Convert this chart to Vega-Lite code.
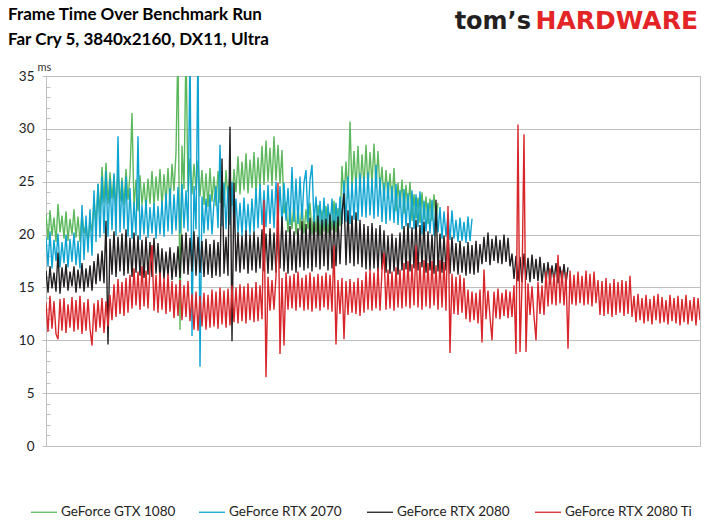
{
  "$schema": "https://vega.github.io/schema/vega-lite/v6.json",
  "width": 654,
  "height": 370,
  "autosize": {"type": "none"},
  "padding": {"left": 46, "top": 76, "right": 9, "bottom": 85},
  "background": "white",
  "title": {
    "text": "Frame Time Over Benchmark Run",
    "subtitle": "Far Cry 5, 3840x2160, DX11, Ultra",
    "anchor": "start",
    "frame": "group",
    "dx": -38,
    "dy": 50,
    "font": "Lato",
    "fontSize": 17,
    "fontWeight": "bold",
    "color": "#000000",
    "subtitleFont": "Lato",
    "subtitleFontSize": 17,
    "subtitleFontWeight": "bold",
    "subtitleColor": "#000000",
    "subtitlePadding": 8,
    "offset": 10
  },
  "config": {
    "view": {"stroke": "#bfbfbf", "strokeWidth": 1}
  },
  "resolve": {"axis": {"y": "independent"}},
  "datasets": {
    "gtx1080": [
      {"t":0,"ms":22.0},{"t":2,"ms":19.5},{"t":4,"ms":22.3},{"t":6,"ms":19.9},{"t":8,"ms":21.6},{"t":10,"ms":19.3},{"t":12,"ms":22.9},{"t":14,"ms":20.2},{"t":16,"ms":21.8},{"t":18,"ms":19.6},
      {"t":20,"ms":22.2},{"t":22,"ms":19.4},{"t":24,"ms":21.5},{"t":26,"ms":20.0},{"t":28,"ms":22.4},{"t":30,"ms":19.7},{"t":32,"ms":21.7},{"t":34,"ms":19.3},{"t":36,"ms":22.1},{"t":38,"ms":20.1},
      {"t":40,"ms":21.0},{"t":42,"ms":19.2},{"t":44,"ms":21.3},{"t":46,"ms":20.3},{"t":48,"ms":23.4},{"t":50,"ms":21.0},{"t":52,"ms":24.8},{"t":54,"ms":22.0},{"t":56,"ms":26.4},{"t":58,"ms":23.0},
      {"t":60,"ms":26.8},{"t":62,"ms":22.9},{"t":64,"ms":25.9},{"t":66,"ms":23.4},{"t":68,"ms":25.6},{"t":70,"ms":22.6},{"t":72,"ms":26.1},{"t":74,"ms":23.1},{"t":76,"ms":25.4},{"t":78,"ms":22.8},
      {"t":80,"ms":26.2},{"t":82,"ms":23.3},{"t":84,"ms":25.7},{"t":86,"ms":31.5},{"t":88,"ms":22.5},{"t":90,"ms":25.2},{"t":92,"ms":22.2},{"t":94,"ms":25.6},{"t":96,"ms":22.8},{"t":98,"ms":24.9},
      {"t":100,"ms":22.4},{"t":102,"ms":25.3},{"t":104,"ms":22.9},{"t":106,"ms":26.0},{"t":108,"ms":22.7},{"t":110,"ms":25.5},{"t":112,"ms":23.2},{"t":114,"ms":26.2},{"t":116,"ms":22.6},{"t":118,"ms":25.7},
      {"t":120,"ms":23.0},{"t":122,"ms":26.3},{"t":124,"ms":22.8},{"t":126,"ms":26.7},{"t":128,"ms":24.1},{"t":130,"ms":27.8},{"t":132,"ms":38},{"t":134,"ms":11.0},{"t":136,"ms":28.4},{"t":138,"ms":24.3},
      {"t":140,"ms":38},{"t":142,"ms":24.0},{"t":144,"ms":27.2},{"t":146,"ms":23.8},{"t":148,"ms":26.7},{"t":150,"ms":24.2},{"t":152,"ms":27.0},{"t":154,"ms":23.6},{"t":156,"ms":26.1},{"t":158,"ms":22.8},
      {"t":160,"ms":25.8},{"t":162,"ms":22.6},{"t":164,"ms":26.3},{"t":166,"ms":23.1},{"t":168,"ms":25.5},{"t":170,"ms":22.7},{"t":172,"ms":26.0},{"t":174,"ms":23.0},{"t":176,"ms":25.6},{"t":178,"ms":22.6},
      {"t":180,"ms":26.1},{"t":182,"ms":23.2},{"t":184,"ms":25.7},{"t":186,"ms":22.7},{"t":188,"ms":26.2},{"t":190,"ms":24.0},{"t":192,"ms":27.4},{"t":194,"ms":23.8},{"t":196,"ms":26.9},{"t":198,"ms":24.2},
      {"t":200,"ms":27.7},{"t":202,"ms":23.9},{"t":204,"ms":27.1},{"t":206,"ms":24.4},{"t":208,"ms":27.8},{"t":210,"ms":24.0},{"t":212,"ms":27.3},{"t":214,"ms":24.5},{"t":216,"ms":28.4},{"t":218,"ms":24.7},
      {"t":220,"ms":28.9},{"t":222,"ms":25.0},{"t":224,"ms":28.2},{"t":226,"ms":24.6},{"t":228,"ms":29.3},{"t":230,"ms":25.1},{"t":232,"ms":28.5},{"t":234,"ms":24.8},{"t":236,"ms":28.0},{"t":238,"ms":22.0},
      {"t":240,"ms":23.1},{"t":242,"ms":20.2},{"t":244,"ms":22.6},{"t":246,"ms":20.5},{"t":248,"ms":23.2},{"t":250,"ms":20.0},{"t":252,"ms":22.5},{"t":254,"ms":20.4},{"t":256,"ms":22.9},{"t":258,"ms":20.1},
      {"t":260,"ms":22.4},{"t":262,"ms":20.5},{"t":264,"ms":23.0},{"t":266,"ms":20.0},{"t":268,"ms":22.2},{"t":270,"ms":20.2},{"t":272,"ms":22.8},{"t":274,"ms":19.9},{"t":276,"ms":22.3},{"t":278,"ms":20.3},
      {"t":280,"ms":22.7},{"t":282,"ms":20.1},{"t":284,"ms":22.1},{"t":286,"ms":20.4},{"t":288,"ms":23.2},{"t":290,"ms":20.2},{"t":292,"ms":22.5},{"t":294,"ms":20.8},{"t":296,"ms":26.5},{"t":298,"ms":23.2},
      {"t":300,"ms":26.9},{"t":302,"ms":23.4},{"t":304,"ms":30.7},{"t":306,"ms":24.2},{"t":308,"ms":27.9},{"t":310,"ms":24.4},{"t":312,"ms":28.4},{"t":314,"ms":24.0},{"t":316,"ms":27.6},{"t":318,"ms":24.6},
      {"t":320,"ms":28.5},{"t":322,"ms":24.3},{"t":324,"ms":27.8},{"t":326,"ms":24.8},{"t":328,"ms":28.6},{"t":330,"ms":24.4},{"t":332,"ms":27.9},{"t":334,"ms":24.1},{"t":336,"ms":26.4},{"t":338,"ms":23.2},
      {"t":340,"ms":26.1},{"t":342,"ms":23.4},{"t":344,"ms":25.8},{"t":346,"ms":23.0},{"t":348,"ms":26.3},{"t":350,"ms":22.2},{"t":352,"ms":24.9},{"t":354,"ms":22.5},{"t":356,"ms":25.2},{"t":358,"ms":22.0},
      {"t":360,"ms":24.7},{"t":362,"ms":22.3},{"t":364,"ms":25.0},{"t":366,"ms":21.3},{"t":368,"ms":23.8},{"t":370,"ms":21.5},{"t":372,"ms":23.5},{"t":374,"ms":21.1},{"t":376,"ms":24.0},{"t":378,"ms":21.4},
      {"t":380,"ms":23.6},{"t":382,"ms":21.0},{"t":384,"ms":23.4},{"t":386,"ms":21.3},{"t":388,"ms":23.8},{"t":390,"ms":21.1},{"t":392,"ms":23.0}
    ],
    "rtx2070": [
      {"t":0,"ms":19.8},{"t":2,"ms":17.0},{"t":4,"ms":20.3},{"t":6,"ms":16.8},{"t":8,"ms":19.5},{"t":10,"ms":17.5},{"t":12,"ms":20.1},{"t":14,"ms":16.9},{"t":16,"ms":19.3},{"t":18,"ms":17.3},
      {"t":20,"ms":20.0},{"t":22,"ms":16.9},{"t":24,"ms":19.6},{"t":26,"ms":17.4},{"t":28,"ms":20.2},{"t":30,"ms":17.1},{"t":32,"ms":19.4},{"t":34,"ms":16.8},{"t":36,"ms":22.8},{"t":38,"ms":17.6},
      {"t":40,"ms":21.8},{"t":42,"ms":18.3},{"t":44,"ms":22.4},{"t":46,"ms":18.0},{"t":48,"ms":24.2},{"t":50,"ms":19.3},{"t":52,"ms":24.8},{"t":54,"ms":19.7},{"t":56,"ms":25.5},{"t":58,"ms":20.1},
      {"t":60,"ms":26.0},{"t":62,"ms":19.8},{"t":64,"ms":25.3},{"t":66,"ms":20.4},{"t":68,"ms":25.8},{"t":70,"ms":19.9},{"t":72,"ms":29.3},{"t":74,"ms":20.2},{"t":76,"ms":25.1},{"t":78,"ms":20.5},
      {"t":80,"ms":25.5},{"t":82,"ms":19.8},{"t":84,"ms":24.4},{"t":86,"ms":19.6},{"t":88,"ms":23.1},{"t":90,"ms":19.9},{"t":92,"ms":29.3},{"t":94,"ms":19.5},{"t":96,"ms":22.8},{"t":98,"ms":20.0},
      {"t":100,"ms":23.3},{"t":102,"ms":19.7},{"t":104,"ms":22.6},{"t":106,"ms":20.1},{"t":108,"ms":23.0},{"t":110,"ms":19.6},{"t":112,"ms":22.7},{"t":114,"ms":20.0},{"t":116,"ms":23.2},{"t":118,"ms":19.8},
      {"t":120,"ms":23.9},{"t":122,"ms":20.3},{"t":124,"ms":24.4},{"t":126,"ms":20.0},{"t":128,"ms":23.8},{"t":130,"ms":20.4},{"t":132,"ms":24.5},{"t":134,"ms":20.1},{"t":136,"ms":24.8},{"t":138,"ms":20.6},
      {"t":140,"ms":24.2},{"t":142,"ms":20.3},{"t":144,"ms":38},{"t":146,"ms":10.4},{"t":148,"ms":24.6},{"t":150,"ms":20.5},{"t":152,"ms":38},{"t":154,"ms":7.5},{"t":156,"ms":23.6},{"t":158,"ms":20.1},
      {"t":160,"ms":23.4},{"t":162,"ms":20.4},{"t":164,"ms":23.8},{"t":166,"ms":20.0},{"t":168,"ms":23.1},{"t":170,"ms":24.6},{"t":172,"ms":20.6},{"t":174,"ms":28.5},{"t":176,"ms":20.8},{"t":178,"ms":24.9},
      {"t":180,"ms":20.5},{"t":182,"ms":24.6},{"t":184,"ms":20.9},{"t":186,"ms":25.0},{"t":188,"ms":20.6},{"t":190,"ms":23.4},{"t":192,"ms":20.1},{"t":194,"ms":23.0},{"t":196,"ms":19.9},{"t":198,"ms":23.5},
      {"t":200,"ms":20.2},{"t":202,"ms":22.9},{"t":204,"ms":20.0},{"t":206,"ms":23.4},{"t":208,"ms":20.3},{"t":210,"ms":24.4},{"t":212,"ms":20.6},{"t":214,"ms":24.8},{"t":216,"ms":20.9},{"t":218,"ms":24.2},
      {"t":220,"ms":20.7},{"t":222,"ms":24.7},{"t":224,"ms":21.0},{"t":226,"ms":24.3},{"t":228,"ms":20.6},{"t":230,"ms":25.0},{"t":232,"ms":21.2},{"t":234,"ms":24.6},{"t":236,"ms":21.0},{"t":238,"ms":24.9},
      {"t":240,"ms":21.3},{"t":242,"ms":24.4},{"t":244,"ms":20.9},{"t":246,"ms":26.4},{"t":248,"ms":21.2},{"t":250,"ms":25.3},{"t":252,"ms":21.0},{"t":254,"ms":25.5},{"t":256,"ms":21.4},{"t":258,"ms":24.9},
      {"t":260,"ms":26.1},{"t":262,"ms":21.2},{"t":264,"ms":25.2},{"t":266,"ms":26.6},{"t":268,"ms":21.1},{"t":270,"ms":23.6},{"t":272,"ms":20.3},{"t":274,"ms":23.2},{"t":276,"ms":20.0},{"t":278,"ms":23.5},
      {"t":280,"ms":19.9},{"t":282,"ms":22.9},{"t":284,"ms":20.4},{"t":286,"ms":23.4},{"t":288,"ms":20.1},{"t":290,"ms":23.0},{"t":292,"ms":20.3},{"t":294,"ms":23.6},{"t":296,"ms":21.0},{"t":298,"ms":25.1},
      {"t":300,"ms":21.2},{"t":302,"ms":25.5},{"t":304,"ms":21.0},{"t":306,"ms":25.0},{"t":308,"ms":21.4},{"t":310,"ms":25.4},{"t":312,"ms":21.3},{"t":314,"ms":25.8},{"t":316,"ms":21.7},{"t":318,"ms":25.5},
      {"t":320,"ms":21.6},{"t":322,"ms":25.9},{"t":324,"ms":21.8},{"t":326,"ms":25.3},{"t":328,"ms":21.5},{"t":330,"ms":26.6},{"t":332,"ms":21.7},{"t":334,"ms":25.4},{"t":336,"ms":21.2},{"t":338,"ms":24.9},
      {"t":340,"ms":21.0},{"t":342,"ms":25.0},{"t":344,"ms":21.3},{"t":346,"ms":24.6},{"t":348,"ms":21.1},{"t":350,"ms":24.8},{"t":352,"ms":20.9},{"t":354,"ms":24.2},{"t":356,"ms":20.5},{"t":358,"ms":24.3},
      {"t":360,"ms":20.8},{"t":362,"ms":23.9},{"t":364,"ms":20.6},{"t":366,"ms":24.2},{"t":368,"ms":20.5},{"t":370,"ms":23.8},{"t":372,"ms":20.7},{"t":374,"ms":24.1},{"t":376,"ms":20.0},{"t":378,"ms":23.2},
      {"t":380,"ms":20.3},{"t":382,"ms":23.0},{"t":384,"ms":20.1},{"t":386,"ms":23.3},{"t":388,"ms":19.9},{"t":390,"ms":22.8},{"t":392,"ms":20.2},{"t":394,"ms":22.6},{"t":396,"ms":19.6},{"t":398,"ms":22.2},
      {"t":400,"ms":19.8},{"t":402,"ms":22.0},{"t":404,"ms":19.5},{"t":406,"ms":22.3},{"t":408,"ms":19.6},{"t":410,"ms":21.4},{"t":412,"ms":19.3},{"t":414,"ms":21.6},{"t":416,"ms":19.4},{"t":418,"ms":21.2},
      {"t":420,"ms":19.2},{"t":422,"ms":21.7},{"t":424,"ms":19.4},{"t":426,"ms":21.5}
    ],
    "rtx2080": [
      {"t":0,"ms":16.6},{"t":2,"ms":14.5},{"t":4,"ms":17.0},{"t":6,"ms":14.9},{"t":8,"ms":16.4},{"t":10,"ms":14.6},{"t":12,"ms":18.3},{"t":14,"ms":14.4},{"t":16,"ms":16.9},{"t":18,"ms":15.0},
      {"t":20,"ms":17.2},{"t":22,"ms":14.7},{"t":24,"ms":16.5},{"t":26,"ms":15.1},{"t":28,"ms":17.0},{"t":30,"ms":14.5},{"t":32,"ms":16.7},{"t":34,"ms":14.9},{"t":36,"ms":17.3},{"t":38,"ms":14.6},
      {"t":40,"ms":16.8},{"t":42,"ms":15.0},{"t":44,"ms":17.1},{"t":46,"ms":14.7},{"t":48,"ms":17.5},{"t":50,"ms":15.3},{"t":52,"ms":18.2},{"t":54,"ms":15.6},{"t":56,"ms":18.5},{"t":58,"ms":15.4},
      {"t":60,"ms":21.3},{"t":62,"ms":9.6},{"t":64,"ms":19.6},{"t":66,"ms":16.2},{"t":68,"ms":20.3},{"t":70,"ms":16.0},{"t":72,"ms":19.8},{"t":74,"ms":16.5},{"t":76,"ms":20.1},{"t":78,"ms":16.1},
      {"t":80,"ms":20.5},{"t":82,"ms":16.3},{"t":84,"ms":19.7},{"t":86,"ms":16.0},{"t":88,"ms":20.2},{"t":90,"ms":16.4},{"t":92,"ms":19.9},{"t":94,"ms":16.1},{"t":96,"ms":19.5},{"t":98,"ms":15.9},
      {"t":100,"ms":19.8},{"t":102,"ms":16.2},{"t":104,"ms":19.3},{"t":106,"ms":16.0},{"t":108,"ms":19.7},{"t":110,"ms":16.3},{"t":112,"ms":19.2},{"t":114,"ms":15.9},{"t":116,"ms":18.7},{"t":118,"ms":15.8},
      {"t":120,"ms":18.4},{"t":122,"ms":16.1},{"t":124,"ms":18.8},{"t":126,"ms":15.7},{"t":128,"ms":18.3},{"t":130,"ms":16.0},{"t":132,"ms":18.9},{"t":134,"ms":15.9},{"t":136,"ms":20.0},{"t":138,"ms":16.3},
      {"t":140,"ms":20.2},{"t":142,"ms":16.2},{"t":144,"ms":19.7},{"t":146,"ms":16.5},{"t":148,"ms":20.3},{"t":150,"ms":16.1},{"t":152,"ms":19.8},{"t":154,"ms":16.4},{"t":156,"ms":19.4},{"t":158,"ms":16.0},
      {"t":160,"ms":19.6},{"t":162,"ms":16.2},{"t":164,"ms":19.1},{"t":166,"ms":15.9},{"t":168,"ms":19.5},{"t":170,"ms":16.1},{"t":172,"ms":19.3},{"t":174,"ms":16.0},{"t":176,"ms":27.2},{"t":178,"ms":16.3},
      {"t":180,"ms":19.8},{"t":182,"ms":16.1},{"t":184,"ms":30.2},{"t":186,"ms":9.9},{"t":188,"ms":24.9},{"t":190,"ms":16.5},{"t":192,"ms":20.2},{"t":194,"ms":16.4},{"t":196,"ms":19.9},{"t":198,"ms":16.7},
      {"t":200,"ms":20.4},{"t":202,"ms":16.3},{"t":204,"ms":20.0},{"t":206,"ms":16.6},{"t":208,"ms":20.3},{"t":210,"ms":16.4},{"t":212,"ms":19.8},{"t":214,"ms":16.8},{"t":216,"ms":20.5},{"t":218,"ms":16.5},
      {"t":220,"ms":20.1},{"t":222,"ms":16.3},{"t":224,"ms":20.6},{"t":226,"ms":16.6},{"t":228,"ms":20.2},{"t":230,"ms":16.4},{"t":232,"ms":20.7},{"t":234,"ms":16.8},{"t":236,"ms":21.7},{"t":238,"ms":16.5},
      {"t":240,"ms":20.4},{"t":242,"ms":16.3},{"t":244,"ms":20.8},{"t":246,"ms":16.6},{"t":248,"ms":20.3},{"t":250,"ms":16.4},{"t":252,"ms":20.6},{"t":254,"ms":16.9},{"t":256,"ms":21.3},{"t":258,"ms":16.6},
      {"t":260,"ms":21.0},{"t":262,"ms":16.8},{"t":264,"ms":21.6},{"t":266,"ms":16.5},{"t":268,"ms":21.2},{"t":270,"ms":16.9},{"t":272,"ms":21.8},{"t":274,"ms":16.7},{"t":276,"ms":21.4},{"t":278,"ms":17.0},
      {"t":280,"ms":21.5},{"t":282,"ms":16.6},{"t":284,"ms":21.9},{"t":286,"ms":16.8},{"t":288,"ms":21.3},{"t":290,"ms":17.0},{"t":292,"ms":21.7},{"t":294,"ms":17.2},{"t":296,"ms":22.0},{"t":298,"ms":23.9},
      {"t":300,"ms":17.1},{"t":302,"ms":22.3},{"t":304,"ms":17.3},{"t":306,"ms":21.8},{"t":308,"ms":17.0},{"t":310,"ms":22.1},{"t":312,"ms":17.2},{"t":314,"ms":21.4},{"t":316,"ms":16.9},{"t":318,"ms":21.0},
      {"t":320,"ms":16.7},{"t":322,"ms":20.8},{"t":324,"ms":16.6},{"t":326,"ms":21.1},{"t":328,"ms":16.8},{"t":330,"ms":20.6},{"t":332,"ms":16.5},{"t":334,"ms":20.9},{"t":336,"ms":16.7},{"t":338,"ms":20.4},
      {"t":340,"ms":16.4},{"t":342,"ms":19.9},{"t":344,"ms":16.3},{"t":346,"ms":20.1},{"t":348,"ms":16.5},{"t":350,"ms":19.7},{"t":352,"ms":16.2},{"t":354,"ms":20.2},{"t":356,"ms":16.6},{"t":358,"ms":20.8},
      {"t":360,"ms":16.7},{"t":362,"ms":21.1},{"t":364,"ms":16.5},{"t":366,"ms":20.7},{"t":368,"ms":16.8},{"t":370,"ms":21.4},{"t":372,"ms":16.6},{"t":374,"ms":20.9},{"t":376,"ms":16.9},{"t":378,"ms":21.2},
      {"t":380,"ms":16.4},{"t":382,"ms":20.3},{"t":384,"ms":16.6},{"t":386,"ms":20.0},{"t":388,"ms":16.3},{"t":390,"ms":23.3},{"t":392,"ms":16.5},{"t":394,"ms":20.1},{"t":396,"ms":16.4},{"t":398,"ms":19.9},
      {"t":400,"ms":16.6},{"t":402,"ms":20.2},{"t":404,"ms":16.3},{"t":406,"ms":19.8},{"t":408,"ms":16.5},{"t":410,"ms":19.2},{"t":412,"ms":16.2},{"t":414,"ms":19.4},{"t":416,"ms":16.4},{"t":418,"ms":18.9},
      {"t":420,"ms":16.1},{"t":422,"ms":19.3},{"t":424,"ms":16.3},{"t":426,"ms":19.0},{"t":428,"ms":16.2},{"t":430,"ms":19.4},{"t":432,"ms":16.4},{"t":434,"ms":19.1},{"t":436,"ms":17.2},{"t":438,"ms":19.8},
      {"t":440,"ms":17.4},{"t":442,"ms":20.2},{"t":444,"ms":17.1},{"t":446,"ms":19.6},{"t":448,"ms":17.5},{"t":450,"ms":19.9},{"t":452,"ms":17.3},{"t":454,"ms":19.5},{"t":456,"ms":17.2},{"t":458,"ms":20.0},
      {"t":460,"ms":17.4},{"t":462,"ms":19.7},{"t":464,"ms":17.0},{"t":466,"ms":18.2},{"t":468,"ms":15.8},{"t":470,"ms":18.0},{"t":472,"ms":15.6},{"t":474,"ms":17.9},{"t":476,"ms":15.5},{"t":478,"ms":18.2},
      {"t":480,"ms":15.7},{"t":482,"ms":17.8},{"t":484,"ms":15.5},{"t":486,"ms":18.1},{"t":488,"ms":15.8},{"t":490,"ms":17.7},{"t":492,"ms":15.6},{"t":494,"ms":17.9},{"t":496,"ms":15.4},{"t":498,"ms":17.3},
      {"t":500,"ms":15.5},{"t":502,"ms":17.4},{"t":504,"ms":15.3},{"t":506,"ms":17.1},{"t":508,"ms":15.6},{"t":510,"ms":17.3},{"t":512,"ms":15.4},{"t":514,"ms":17.0},{"t":516,"ms":15.5},{"t":518,"ms":17.2},
      {"t":520,"ms":15.4},{"t":522,"ms":16.9}
    ],
    "rtx2080ti": [
      {"t":0,"ms":13.6},{"t":2,"ms":10.8},{"t":4,"ms":14.2},{"t":6,"ms":11.1},{"t":8,"ms":13.7},{"t":10,"ms":10.6},{"t":12,"ms":10.1},{"t":14,"ms":13.9},{"t":16,"ms":10.9},{"t":18,"ms":14.0},
      {"t":20,"ms":10.7},{"t":22,"ms":13.4},{"t":24,"ms":11.2},{"t":26,"ms":14.1},{"t":28,"ms":10.8},{"t":30,"ms":13.8},{"t":32,"ms":11.0},{"t":34,"ms":14.2},{"t":36,"ms":10.6},{"t":38,"ms":13.6},
      {"t":40,"ms":10.9},{"t":42,"ms":13.9},{"t":44,"ms":11.1},{"t":46,"ms":9.5},{"t":48,"ms":13.5},{"t":50,"ms":10.8},{"t":52,"ms":13.8},{"t":54,"ms":11.2},{"t":56,"ms":14.0},{"t":58,"ms":10.7},
      {"t":60,"ms":13.7},{"t":62,"ms":11.3},{"t":64,"ms":14.3},{"t":66,"ms":11.9},{"t":68,"ms":15.3},{"t":70,"ms":12.2},{"t":72,"ms":15.8},{"t":74,"ms":12.5},{"t":76,"ms":15.5},{"t":78,"ms":12.3},
      {"t":80,"ms":15.9},{"t":82,"ms":12.6},{"t":84,"ms":16.2},{"t":86,"ms":13.0},{"t":88,"ms":16.8},{"t":90,"ms":13.3},{"t":92,"ms":16.5},{"t":94,"ms":12.9},{"t":96,"ms":17.0},{"t":98,"ms":13.2},
      {"t":100,"ms":16.6},{"t":102,"ms":13.0},{"t":104,"ms":16.9},{"t":106,"ms":19.0},{"t":108,"ms":12.8},{"t":110,"ms":16.2},{"t":112,"ms":12.6},{"t":114,"ms":16.4},{"t":116,"ms":12.9},{"t":118,"ms":15.9},
      {"t":120,"ms":12.5},{"t":122,"ms":16.3},{"t":124,"ms":12.7},{"t":126,"ms":15.6},{"t":128,"ms":12.1},{"t":130,"ms":15.3},{"t":132,"ms":12.3},{"t":134,"ms":15.7},{"t":136,"ms":11.9},{"t":138,"ms":15.2},
      {"t":140,"ms":12.2},{"t":142,"ms":15.6},{"t":144,"ms":11.8},{"t":146,"ms":14.4},{"t":148,"ms":11.0},{"t":150,"ms":14.6},{"t":152,"ms":10.9},{"t":154,"ms":14.2},{"t":156,"ms":11.3},{"t":158,"ms":14.5},
      {"t":160,"ms":11.0},{"t":162,"ms":14.3},{"t":164,"ms":11.2},{"t":166,"ms":14.8},{"t":168,"ms":11.3},{"t":170,"ms":14.6},{"t":172,"ms":11.1},{"t":174,"ms":15.0},{"t":176,"ms":11.5},{"t":178,"ms":14.7},
      {"t":180,"ms":11.2},{"t":182,"ms":14.9},{"t":184,"ms":11.4},{"t":186,"ms":15.2},{"t":188,"ms":11.7},{"t":190,"ms":15.0},{"t":192,"ms":11.6},{"t":194,"ms":15.3},{"t":196,"ms":11.8},{"t":198,"ms":15.1},
      {"t":200,"ms":11.6},{"t":202,"ms":15.4},{"t":204,"ms":11.9},{"t":206,"ms":15.0},{"t":208,"ms":11.7},{"t":210,"ms":15.5},{"t":212,"ms":11.8},{"t":214,"ms":15.2},{"t":216,"ms":12.0},{"t":218,"ms":23.3},
      {"t":220,"ms":6.5},{"t":222,"ms":16.0},{"t":224,"ms":12.8},{"t":226,"ms":15.7},{"t":228,"ms":12.9},{"t":230,"ms":16.1},{"t":232,"ms":24.9},{"t":234,"ms":8.7},{"t":236,"ms":15.9},{"t":238,"ms":9.5},
      {"t":240,"ms":16.4},{"t":242,"ms":12.9},{"t":244,"ms":16.1},{"t":246,"ms":13.0},{"t":248,"ms":16.3},{"t":250,"ms":12.8},{"t":252,"ms":16.5},{"t":254,"ms":13.1},{"t":256,"ms":15.9},{"t":258,"ms":12.8},
      {"t":260,"ms":16.2},{"t":262,"ms":12.9},{"t":264,"ms":16.4},{"t":266,"ms":12.7},{"t":268,"ms":16.0},{"t":270,"ms":13.0},{"t":272,"ms":16.3},{"t":274,"ms":12.8},{"t":276,"ms":16.1},{"t":278,"ms":13.1},
      {"t":280,"ms":16.4},{"t":282,"ms":12.9},{"t":284,"ms":16.2},{"t":286,"ms":12.7},{"t":288,"ms":19.0},{"t":290,"ms":9.6},{"t":292,"ms":15.7},{"t":294,"ms":12.5},{"t":296,"ms":15.9},{"t":298,"ms":10.1},
      {"t":300,"ms":15.6},{"t":302,"ms":12.4},{"t":304,"ms":15.8},{"t":306,"ms":12.6},{"t":308,"ms":15.5},{"t":310,"ms":12.5},{"t":312,"ms":15.9},{"t":314,"ms":12.3},{"t":316,"ms":15.7},{"t":318,"ms":12.6},
      {"t":320,"ms":16.5},{"t":322,"ms":12.9},{"t":324,"ms":16.7},{"t":326,"ms":12.8},{"t":328,"ms":16.4},{"t":330,"ms":13.0},{"t":332,"ms":16.8},{"t":334,"ms":12.8},{"t":336,"ms":16.6},{"t":338,"ms":18.3},
      {"t":340,"ms":12.9},{"t":342,"ms":16.7},{"t":344,"ms":13.0},{"t":346,"ms":16.5},{"t":348,"ms":12.8},{"t":350,"ms":16.9},{"t":352,"ms":13.1},{"t":354,"ms":16.7},{"t":356,"ms":13.0},{"t":358,"ms":17.3},
      {"t":360,"ms":13.2},{"t":362,"ms":17.5},{"t":364,"ms":13.0},{"t":366,"ms":17.2},{"t":368,"ms":13.3},{"t":370,"ms":19.0},{"t":372,"ms":13.1},{"t":374,"ms":17.4},{"t":376,"ms":12.9},{"t":378,"ms":17.6},
      {"t":380,"ms":13.2},{"t":382,"ms":17.3},{"t":384,"ms":13.0},{"t":386,"ms":17.5},{"t":388,"ms":13.3},{"t":390,"ms":17.1},{"t":392,"ms":12.9},{"t":394,"ms":17.6},{"t":396,"ms":13.1},{"t":398,"ms":17.4},
      {"t":400,"ms":12.8},{"t":402,"ms":22.7},{"t":404,"ms":8.8},{"t":406,"ms":16.3},{"t":408,"ms":12.5},{"t":410,"ms":16.0},{"t":412,"ms":12.4},{"t":414,"ms":16.2},{"t":416,"ms":12.6},{"t":418,"ms":15.9},
      {"t":420,"ms":12.0},{"t":422,"ms":14.8},{"t":424,"ms":11.7},{"t":426,"ms":14.6},{"t":428,"ms":11.9},{"t":430,"ms":14.5},{"t":432,"ms":11.6},{"t":434,"ms":14.8},{"t":436,"ms":9.8},{"t":438,"ms":16.7},
      {"t":440,"ms":12.0},{"t":442,"ms":14.7},{"t":444,"ms":12.2},{"t":446,"ms":10.0},{"t":448,"ms":14.6},{"t":450,"ms":12.1},{"t":452,"ms":14.9},{"t":454,"ms":12.0},{"t":456,"ms":14.5},{"t":458,"ms":12.3},
      {"t":460,"ms":14.8},{"t":462,"ms":12.1},{"t":464,"ms":14.6},{"t":466,"ms":12.2},{"t":468,"ms":15.2},{"t":470,"ms":8.7},{"t":472,"ms":30.4},{"t":474,"ms":8.9},{"t":476,"ms":15.3},{"t":478,"ms":29.5},
      {"t":480,"ms":8.9},{"t":482,"ms":15.4},{"t":484,"ms":12.4},{"t":486,"ms":15.1},{"t":488,"ms":12.3},{"t":490,"ms":10.0},{"t":492,"ms":15.5},{"t":494,"ms":12.5},{"t":496,"ms":15.2},{"t":498,"ms":12.4},
      {"t":500,"ms":16.5},{"t":502,"ms":13.2},{"t":504,"ms":16.8},{"t":506,"ms":13.4},{"t":508,"ms":16.3},{"t":510,"ms":13.3},{"t":512,"ms":18.1},{"t":514,"ms":13.5},{"t":516,"ms":16.6},{"t":518,"ms":13.3},
      {"t":520,"ms":16.4},{"t":522,"ms":9.2},{"t":524,"ms":16.6},{"t":526,"ms":13.4},{"t":528,"ms":16.2},{"t":530,"ms":13.3},{"t":532,"ms":16.5},{"t":534,"ms":13.5},{"t":536,"ms":16.1},{"t":538,"ms":13.3},
      {"t":540,"ms":16.6},{"t":542,"ms":13.4},{"t":544,"ms":16.3},{"t":546,"ms":13.2},{"t":548,"ms":16.5},{"t":550,"ms":13.5},{"t":552,"ms":15.7},{"t":554,"ms":12.4},{"t":556,"ms":15.6},{"t":558,"ms":12.3},
      {"t":560,"ms":15.9},{"t":562,"ms":12.5},{"t":564,"ms":15.4},{"t":566,"ms":12.2},{"t":568,"ms":15.8},{"t":570,"ms":12.4},{"t":572,"ms":15.5},{"t":574,"ms":12.6},{"t":576,"ms":15.7},{"t":578,"ms":12.3},
      {"t":580,"ms":15.6},{"t":582,"ms":12.5},{"t":584,"ms":16.1},{"t":586,"ms":12.2},{"t":588,"ms":14.2},{"t":590,"ms":11.7},{"t":592,"ms":14.4},{"t":594,"ms":11.9},{"t":596,"ms":14.0},{"t":598,"ms":11.6},
      {"t":600,"ms":14.3},{"t":602,"ms":11.8},{"t":604,"ms":13.9},{"t":606,"ms":11.5},{"t":608,"ms":14.2},{"t":610,"ms":11.9},{"t":612,"ms":14.4},{"t":614,"ms":11.6},{"t":616,"ms":14.1},{"t":618,"ms":11.7},
      {"t":620,"ms":13.8},{"t":622,"ms":11.5},{"t":624,"ms":14.3},{"t":626,"ms":11.8},{"t":628,"ms":14.0},{"t":630,"ms":11.6},{"t":632,"ms":14.2},{"t":634,"ms":11.4},{"t":636,"ms":13.9},{"t":638,"ms":11.7},
      {"t":640,"ms":14.3},{"t":642,"ms":11.5},{"t":644,"ms":13.8},{"t":646,"ms":11.8},{"t":648,"ms":14.1},{"t":650,"ms":11.4},{"t":652,"ms":14.0},{"t":654,"ms":11.9}
    ]
  },
  "layer": [
    {
      "data": {"name": "gtx1080"},
      "mark": {"type": "line", "strokeWidth": 1.4, "clip": true},
      "encoding": {
        "x": {"field": "t", "type": "quantitative", "scale": {"domain": [0, 654], "nice": false, "zero": false}, "axis": null},
        "y": {
          "field": "ms", "type": "quantitative",
          "scale": {"domain": [0, 35], "nice": false},
          "axis": {
            "orient": "left",
            "title": "ms", "titleAngle": 0, "titleAlign": "left", "titleBaseline": "alphabetic",
            "titleX": -9, "titleY": -5.5, "titleFont": "Lato", "titleFontSize": 11, "titleFontWeight": "normal", "titleColor": "#333333",
            "values": [0, 5, 10, 15, 20, 25, 30, 35],
            "labelFont": "Lato", "labelFontSize": 13.5, "labelColor": "#222222", "labelPadding": 8,
            "tickSize": 4, "tickColor": "#bfbfbf", "domain": false,
            "grid": true, "gridColor": "#bfbfbf"
          }
        },
        "color": {
          "datum": "GeForce GTX 1080", "type": "nominal",
          "scale": {"domain": ["GeForce GTX 1080", "GeForce RTX 2070", "GeForce RTX 2080", "GeForce RTX 2080 Ti"], "range": ["#5cb85c", "#0ea4d1", "#231f20", "#d8262b"]},
          "legend": {
            "orient": "none", "legendX": -16, "legendY": 422, "direction": "horizontal", "columns": 4,
            "title": null, "symbolType": "stroke", "symbolSize": 676, "symbolStrokeWidth": 1.3,
            "labelFont": "Lato", "labelFontSize": 13.5, "labelColor": "#222222", "labelOffset": 3,
            "columnPadding": 7, "gridAlign": "all"
          }
        }
      }
    },
    {
      "data": {"name": "rtx2070"},
      "mark": {"type": "line", "strokeWidth": 1.4, "clip": true},
      "encoding": {
        "x": {"field": "t", "type": "quantitative", "scale": {"domain": [0, 654], "nice": false, "zero": false}},
        "y": {"field": "ms", "type": "quantitative", "scale": {"domain": [0, 35], "nice": false}, "axis": null},
        "color": {"datum": "GeForce RTX 2070", "type": "nominal"}
      }
    },
    {
      "data": {"name": "rtx2080"},
      "mark": {"type": "line", "strokeWidth": 1.4, "clip": true},
      "encoding": {
        "x": {"field": "t", "type": "quantitative", "scale": {"domain": [0, 654], "nice": false, "zero": false}},
        "y": {"field": "ms", "type": "quantitative", "scale": {"domain": [0, 35], "nice": false}, "axis": null},
        "color": {"datum": "GeForce RTX 2080", "type": "nominal"}
      }
    },
    {
      "data": {"name": "rtx2080ti"},
      "mark": {"type": "line", "strokeWidth": 1.4, "clip": true},
      "encoding": {
        "x": {"field": "t", "type": "quantitative", "scale": {"domain": [0, 654], "nice": false, "zero": false}},
        "y": {"field": "ms", "type": "quantitative", "scale": {"domain": [0, 35], "nice": false}, "axis": null},
        "color": {"datum": "GeForce RTX 2080 Ti", "type": "nominal"}
      }
    },
    {
      "data": {"values": [{}]},
      "mark": {"type": "text", "text": "tom’s", "font": "DejaVu Sans", "fontWeight": "bold", "fontSize": 24, "align": "right", "baseline": "alphabetic", "color": "#231f20"},
      "encoding": {
        "x": {"datum": 485, "type": "quantitative", "scale": {"domain": [0, 654], "nice": false, "zero": false}},
        "y": {
          "datum": 39.45, "type": "quantitative", "scale": {"domain": [0, 35], "nice": false},
          "axis": {
            "orient": "left", "title": null, "labels": false, "domain": false, "grid": false,
            "values": [1, 2, 3, 4, 6, 7, 8, 9, 11, 12, 13, 14, 16, 17, 18, 19, 21, 22, 23, 24, 26, 27, 28, 29, 31, 32, 33, 34],
            "tickSize": 4, "tickColor": "#bfbfbf", "offset": -4
          }
        }
      }
    },
    {
      "data": {"values": [{}]},
      "mark": {"type": "text", "text": "HARDWARE", "font": "DejaVu Sans", "fontWeight": "bold", "fontSize": 25, "align": "right", "baseline": "alphabetic", "color": "#e42528"},
      "encoding": {
        "x": {"datum": 652, "type": "quantitative", "scale": {"domain": [0, 654], "nice": false, "zero": false}},
        "y": {"datum": 39.45, "type": "quantitative", "scale": {"domain": [0, 35], "nice": false}, "axis": null}
      }
    }
  ]
}
